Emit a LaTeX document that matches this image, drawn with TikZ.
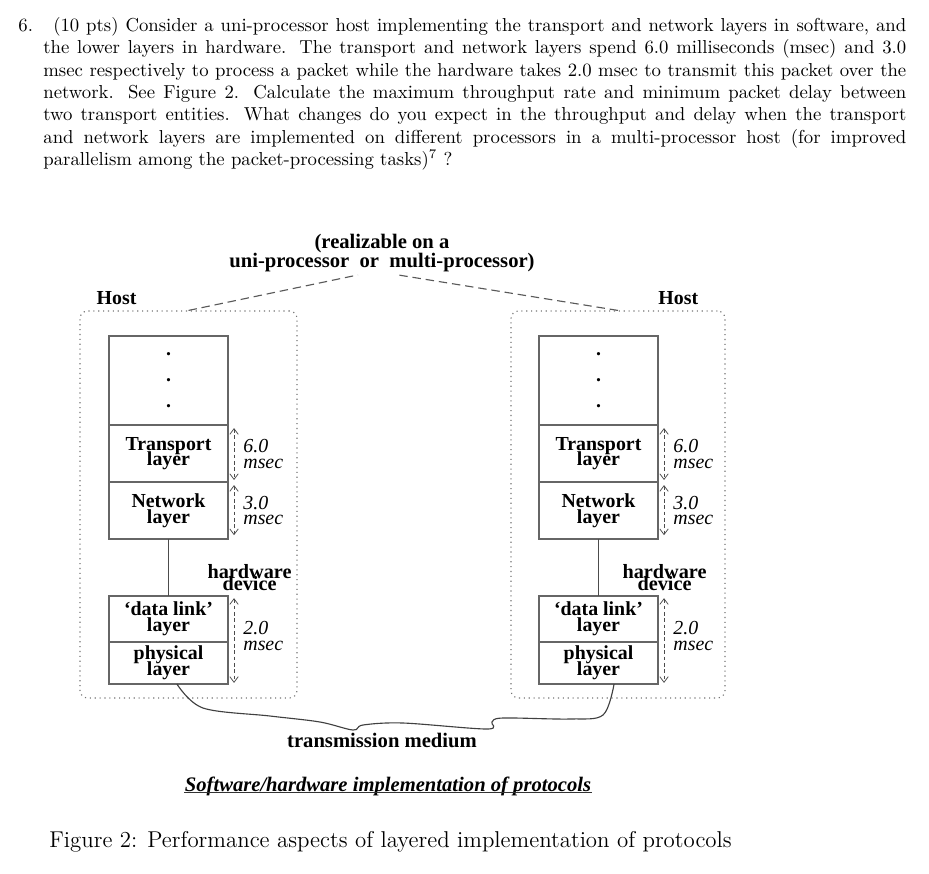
\documentclass[tikz,border=0pt]{standalone}
\usepackage{fontspec}
\newfontfamily\figfont{Liberation Serif}
\usetikzlibrary{positioning,calc,arrows.meta}
% xfig-like tight lines: always keep the baselineskip, even if lines touch
\newcommand{\figsize}[2]{\fontsize{#1}{#2}\selectfont\lineskiplimit=-20pt\relax}
\tikzset{
layerbox/.style={
  draw=black!60,
  line width=0.7pt,
  rectangle,
  minimum width=63.5pt,
  inner sep=0pt,
  outer sep=0pt,
  align=center,
  font=\figfont\bfseries\figsize{10.6}{8.4}
  },
timearrow/.style={
  draw=black!70,
  dash pattern=on 2pt off 1.4pt,
  line width=0.4pt,
  {Straight Barb[length=3pt,width=4.5pt]}-{Straight Barb[length=3pt,width=4.5pt]}
  },
wire/.style={draw=black!70, line width=0.6pt}
}

\begin{document}
\begin{tikzpicture}[
    x=0.5333pt, y=-0.5333pt,
    hostbox/.style={
      draw=black!55,
      dotted,
      line width=0.6pt,
      rounded corners=4pt,
      minimum height=206.4pt,
      inner sep=0pt
      },
    hostlabel/.style={font=\figfont\bfseries\figsize{10.6}{12}, inner sep=0pt},
    timelabel/.style={font=\figfont\itshape\figsize{10.6}{8.1}, inner sep=0pt, align=left},
    hwlabel/.style={font=\figfont\bfseries\figsize{10.8}{6.6}, inner sep=0pt, align=center},
    share/.style={draw=black!65, dash pattern=on 4.5pt off 2.6pt, line width=0.6pt},
    medium/.style={draw=black!75, line width=0.6pt},
    question/.style={font=\fontsize{10}{11.9}\selectfont, inner sep=0pt},
    >=latex
    ]
\useasboundingbox (0,0) rectangle (929,873);

% question text
\node[question, anchor=base west] (qnum) at (18,31) {6.};
\node[question, anchor=north west, align=left] (qtext) at (43,17) {%
\hspace*{5.3pt}\makebox[454.9pt][s]{(10 pts) Consider a uni-processor host implementing the transport and network layers in software, and}\\
\makebox[460.2pt][s]{the lower layers in hardware. The transport and network layers spend 6.0 milliseconds (msec) and 3.0}\\
\makebox[460.2pt][s]{msec respectively to process a packet while the hardware takes 2.0 msec to transmit this packet over the}\\
\makebox[460.2pt][s]{network. See Figure 2. Calculate the maximum throughput rate and minimum packet delay between}\\
\makebox[460.2pt][s]{two transport entities. What changes do you expect in the throughput and delay when the transport}\\
\makebox[460.2pt][s]{and network layers are implemented on different processors in a multi-processor host (for improved}\\
parallelism among the packet-processing tasks)$^7$ ?};

% hosts
\node[hostbox, minimum width=115.7pt] (lhost) at (188.5,504.5) {};
\node[hostbox, minimum width=114.1pt] (rhost) at (618,504.5) {};
\node[hostlabel, anchor=base west] (lhostname) at ([xshift=9pt,yshift=3.4pt]lhost.north west) {Host};
\node[hostlabel, anchor=base east] (rhostname) at ([xshift=-14.4pt,yshift=3.4pt]rhost.north east) {Host};

% layer stacks
\foreach \side/\x/\hx in {l/168.5/11.5pt, r/598.5/3.5pt}
{
  \node[layerbox, minimum height=47.5pt, anchor=north, font=\figfont\bfseries\figsize{10.6}{13.9}] (\side dots) at (\x,336) {.\\.\\.};
  \node[layerbox, minimum height=30.4pt, below=0pt of \side dots] (\side tp) {Transport\\layer};
  \node[layerbox, minimum height=30.4pt, below=0pt of \side tp] (\side nw) {Network\\layer};
  \node[layerbox, minimum height=24.5pt, below=30.4pt of \side nw] (\side dl) {‘data link’\\layer};
  \node[layerbox, minimum height=22.4pt, below=0pt of \side dl] (\side ph) {physical\\layer};
  \draw[wire] (\side nw) -- (\side dl);
  \draw[timearrow] ([xshift=3.2pt,yshift=-1.6pt]\side tp.north east) -- node[timelabel, right=4.8pt] {6.0\\msec} ([xshift=3.2pt,yshift=1.1pt]\side tp.south east);
  \draw[timearrow] ([xshift=3.2pt,yshift=-1.6pt]\side nw.north east) -- node[timelabel, right=4.8pt] {3.0\\msec} ([xshift=3.2pt,yshift=2.1pt]\side nw.south east);
  \draw[timearrow] ([xshift=3.2pt,yshift=-1.1pt]\side dl.north east) -- node[timelabel, right=4.8pt, yshift=2.4pt] {2.0\\msec} ([xshift=3.2pt,yshift=0.6pt]\side ph.south east);
  \node[hwlabel] (\side hw) at ([xshift=\hx,yshift=-5.3pt]$(\side nw.south east)!0.5!(\side dl.north east)$) {hardware\\device};
}

% shared processor note
\node[inner sep=0pt, align=center, font=\figfont\bfseries\figsize{11}{10}] (proc) at (382,253) {(realizable on a\\uni-processor\ \ or\ \ multi-processor)};
\draw[share] (lhost.north) -- ([xshift=-12.8pt,yshift=-1.5pt]proc.south);
\draw[share] (rhost.north) -- ([xshift=8.5pt,yshift=-1.5pt]proc.south);

% transmission medium
\draw[medium] plot[smooth, tension=0.55] coordinates {([xshift=4.5pt]lph.south) (203,708) (270,716) (320,722) (353,730) (363,725) (403,723) (487,729) (492,722) (503,718) (570,719) (603,715) ([xshift=8.3pt]rph.south)};
\node[inner sep=0pt, anchor=base, font=\figfont\bfseries\figsize{11}{13}] (mediumname) at (382,747) {transmission medium};

\node[inner sep=0pt, anchor=base, font=\figfont\bfseries\itshape\figsize{11}{13}] (title) at (388,791) {Software/hardware implementation of protocols};
\draw[black!80, line width=0.5pt] ([yshift=-1pt]title.base west) -- ([yshift=-1pt]title.base east);

\node[inner sep=0pt, anchor=base west, font=\fontsize{12.2}{14}\selectfont] (caption) at (49,847) {Figure 2: Performance aspects of layered implementation of protocols};
\end{tikzpicture}
\end{document}
